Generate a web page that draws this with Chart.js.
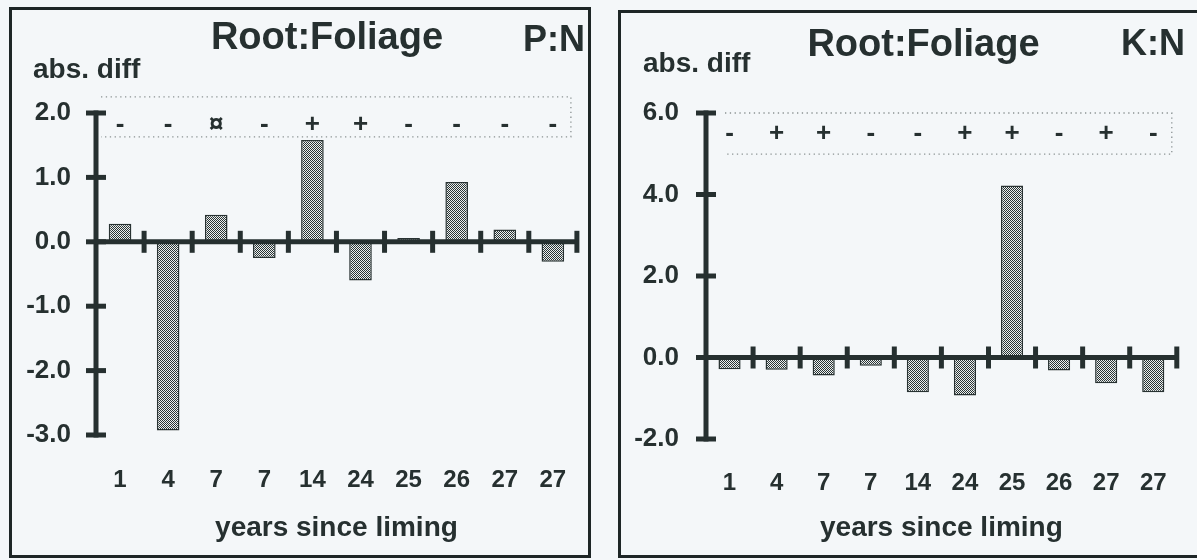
<!DOCTYPE html>
<html><head><meta charset="utf-8">
<script src="https://cdn.jsdelivr.net/npm/chart.js@4/dist/chart.umd.min.js"></script>
<style>
html,body{margin:0;padding:0;background:#f4f7f9;overflow:hidden;width:1197px;height:560px;}
#stage{position:absolute;left:0;top:0;width:1197px;height:560px;font-family:'Liberation Sans',Arial,sans-serif;font-weight:bold;color:#263030;}
.panel{position:absolute;border:3px solid #1e2626;box-sizing:border-box;}
.t{position:absolute;white-space:nowrap;line-height:1;}
canvas{position:absolute;top:0;}
</style></head><body>
<div id="stage">
  <div class="panel" style="left:8.5px;top:7px;width:582px;height:551px"></div>
  <div class="panel" style="left:618px;top:10px;width:582px;height:548px"></div>
  <canvas id="c1" width="598" height="560" style="left:0"></canvas>
  <canvas id="c2" width="599" height="560" style="left:598px"></canvas>
  <div class="t" style="font-size:38px;left:177px;width:300px;text-align:center;top:16.5px">Root:Foliage</div>
  <div class="t" style="font-size:36px;left:485px;width:100px;text-align:right;top:21px">P:N</div>
  <div class="t" style="font-size:28px;left:33px;top:55px">abs. diff</div>
  <div class="t" style="font-size:38px;left:773.5px;width:300px;text-align:center;top:24px">Root:Foliage</div>
  <div class="t" style="font-size:36px;left:1085px;width:100px;text-align:right;top:25px">K:N</div>
  <div class="t" style="font-size:28px;left:643px;top:49px">abs. diff</div>
</div>
<script>
const categories = ['1','4','7','7','14','24','25','26','27','27'];
const pnValues = [0.28, -2.93, 0.42, -0.25, 1.58, -0.60, 0.06, 0.93, 0.19, -0.31];
const pnSigns  = ['-','-','¤','-','+','+','-','-','-','-'];
const pnYTicks = [-3, -2, -1, 0, 1, 2];
const knValues = [-0.29, -0.30, -0.44, -0.20, -0.85, -0.93, 4.22, -0.32, -0.63, -0.85];
const knSigns  = ['-','+','+','-','-','+','+','-','+','-'];
const knYTicks = [-2, 0, 2, 4, 6];

const INK = '#263030';
const FONT = "'Liberation Sans', Arial, sans-serif";

function makePattern(){
  const c = document.createElement('canvas'); c.width = 2; c.height = 2;
  const g = c.getContext('2d');
  g.fillStyle = '#ecf0f0'; g.fillRect(0,0,2,2);
  g.fillStyle = '#2a3434'; g.fillRect(0,0,1,1); g.fillRect(1,1,1,1);
  return g.createPattern(c,'repeat');
}

const axisPlugin = {
  id: 'paperAxes',
  afterDatasetsDraw(chart, args, o) {
    const {ctx, chartArea: a, scales: {x, y}} = chart;
    ctx.save();
    ctx.strokeStyle = INK; ctx.fillStyle = INK; ctx.lineCap = 'butt';
    // dotted significance box
    ctx.save();
    ctx.strokeStyle = '#8a9292'; ctx.lineWidth = 1.3; ctx.setLineDash([1.3, 3.5]);
    const bt = y.getPixelForValue(o.boxTop), bb = y.getPixelForValue(o.boxBottom);
    const bl = a.left + o.boxInsetLeft, br = a.right - o.boxInsetRight;
    ctx.beginPath();
    ctx.moveTo(bl, bt); ctx.lineTo(br, bt); ctx.lineTo(br, bb); ctx.lineTo(bl, bb);
    ctx.stroke();
    ctx.restore();
    // signs
    ctx.font = 'bold 26px ' + FONT; ctx.textAlign = 'center'; ctx.textBaseline = 'middle';
    const sy = y.getPixelForValue(o.signY);
    o.signs.forEach((s, i) => ctx.fillText(s, x.getPixelForValue(i), sy));
    // zero line
    const y0 = y.getPixelForValue(0);
    ctx.lineWidth = 5;
    ctx.beginPath(); ctx.moveTo(a.left, y0); ctx.lineTo(a.right + 2, y0); ctx.stroke();
    // category boundary ticks
    for (let i = 1; i <= categories.length; i++) {
      const px = x.getPixelForValue(i - 0.5);
      ctx.beginPath(); ctx.moveTo(px, y0 - 11); ctx.lineTo(px, y0 + 11); ctx.stroke();
    }
    // y axis
    const yt = y.getPixelForValue(y.max), yb = y.getPixelForValue(y.min);
    ctx.beginPath(); ctx.moveTo(a.left, yt - 2.5); ctx.lineTo(a.left, yb + 2.5); ctx.stroke();
    y.ticks.forEach(t => {
      const py = y.getPixelForValue(t.value);
      ctx.beginPath(); ctx.moveTo(a.left - 10, py); ctx.lineTo(a.left + 10, py); ctx.stroke();
    });
    ctx.restore();
  }
};

function build(id, values, signs, yTicks, cfg) {
  return new Chart(document.getElementById(id), {
    type: 'bar',
    data: { labels: categories, datasets: [{
      data: values, backgroundColor: makePattern(), borderColor: '#283232', borderWidth: 1.5,
      categoryPercentage: 1, barPercentage: 0.47
    }]},
    options: {
      responsive: false, animation: false, devicePixelRatio: 1,
      layout: { padding: { left: 0, right: cfg.padRight, top: 113, bottom: 0 } },
      plugins: { legend: { display: false }, tooltip: { enabled: false },
        paperAxes: { signs: signs, signY: cfg.signY, boxTop: cfg.boxTop, boxBottom: cfg.boxBottom,
                     boxInsetLeft: cfg.boxInsetLeft, boxInsetRight: cfg.boxInsetRight } },
      scales: {
        x: { type: 'category', offset: true,
          grid: { display: false, drawTicks: false }, border: { display: false },
          ticks: { color: INK, font: { family: FONT, size: 24, weight: 'bold' }, padding: cfg.xPad, maxRotation: 0, autoSkip: false },
          title: { display: true, text: 'years since liming', color: INK,
                   font: { family: FONT, size: 28, weight: 'bold' }, padding: { top: 0, bottom: 15 } },
          afterFit(s) { s.height = cfg.xHeight; } },
        y: { min: yTicks[0], max: yTicks[yTicks.length - 1],
          grid: { display: false, drawTicks: false }, border: { display: false },
          afterBuildTicks(s) { s.ticks = yTicks.map(v => ({ value: v })); },
          ticks: { color: INK, font: { family: FONT, size: 26, weight: 'bold' }, padding: cfg.yPad,
                   callback: v => Number(v).toFixed(1) },
          afterFit(s) { s.width = cfg.yWidth; } }
      }
    },
    plugins: [axisPlugin]
  });
}

build('c1', pnValues, pnSigns, pnYTicks, {
  padRight: 16, xHeight: 125, xPad: 31, yWidth: 96, yPad: 25,
  signY: 1.81, boxTop: 2.25, boxBottom: 1.63, boxInsetLeft: 5, boxInsetRight: 6
});
build('c2', knValues, knSigns, knYTicks, {
  padRight: 8, xHeight: 121, xPad: 30, yWidth: 108, yPad: 27,
  signY: 5.5, boxTop: 6.0, boxBottom: 4.99, boxInsetLeft: 19, boxInsetRight: 5
});
</script>
</body></html>
